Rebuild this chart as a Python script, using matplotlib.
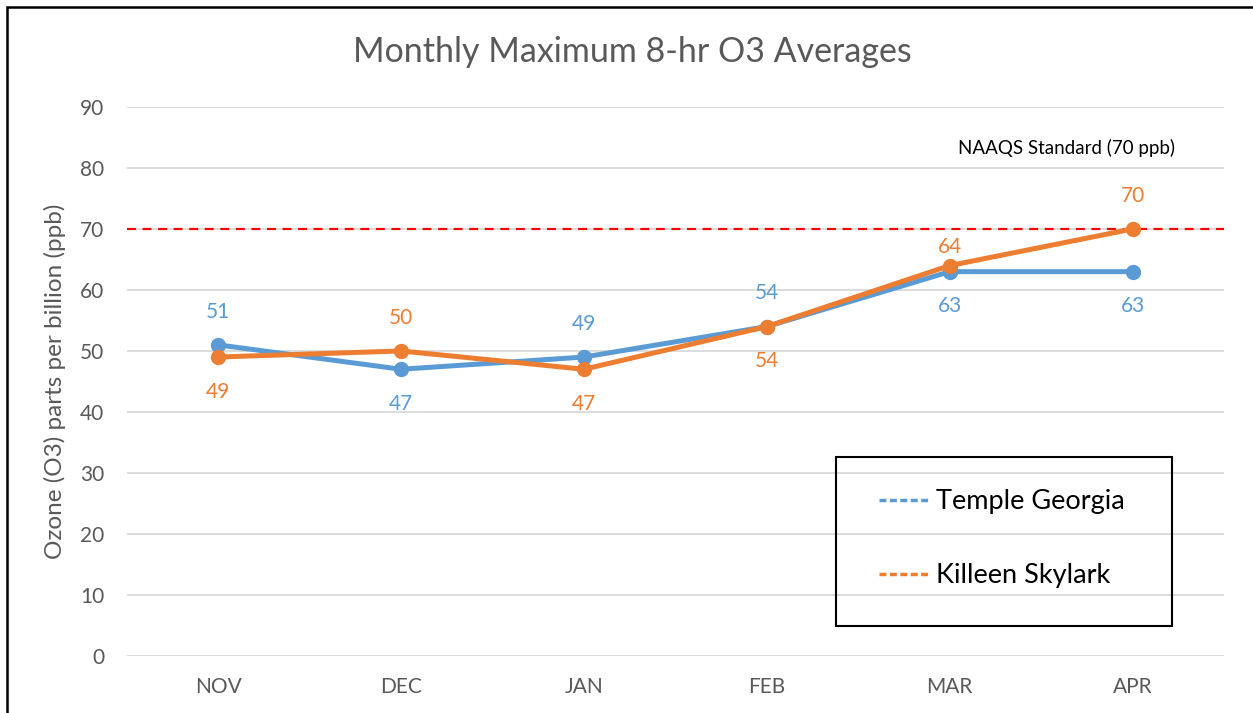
import matplotlib.pyplot as plt
from matplotlib.lines import Line2D
from matplotlib.patches import Rectangle

months = ['NOV', 'DEC', 'JAN', 'FEB', 'MAR', 'APR']
temple = [51, 47, 49, 54, 63, 63]
killeen = [49, 50, 47, 54, 64, 70]
temple_pos = ['above', 'below', 'above', 'above', 'below', 'below']
killeen_pos = ['below', 'above', 'below', 'below', 'near', 'above']
naaqs = 70

blue = '#5B9BD5'
orange = '#ED7D31'
grey = '#595959'

plt.rcParams['font.family'] = ['Lato', 'DejaVu Sans']

fig = plt.figure(figsize=(12.53, 7.13), dpi=100)
ax = fig.add_axes([0.101, 0.080, 0.876, 0.770])

x = list(range(len(months)))
ax.plot(x, temple, color=blue, lw=3.6, marker='o', ms=10, zorder=3)
ax.plot(x, killeen, color=orange, lw=3.6, marker='o', ms=10, zorder=4)
ax.axhline(naaqs, color='#FF0000', lw=1.6, ls=(0, (4, 3)), zorder=2)

# data labels
offsets = {'above': 24, 'below': -25, 'near': 13}
for vals, pos, c in [(temple, temple_pos, blue), (killeen, killeen_pos, orange)]:
    for i, v in enumerate(vals):
        ax.annotate(str(v), (i, v), xytext=(0, offsets[pos[i]]), textcoords='offset points',
                    ha='center', va='center', color=c, fontsize=15)

ax.set_xlim(-0.5, len(months) - 0.5)
ax.set_ylim(0, 90)
ax.set_yticks(range(0, 91, 10))
ax.set_xticks(x)
ax.set_xticklabels(months)
ax.tick_params(length=0, labelsize=15, labelcolor=grey)
ax.tick_params(axis='x', pad=15)
ax.tick_params(axis='y', pad=16)
ax.grid(axis='y', color='#D9D9D9', lw=1.3)
ax.set_axisbelow(True)
for s in ax.spines.values():
    s.set_visible(False)
ax.set_ylabel('Ozone (O3) parts per billion (ppb)', fontsize=17.5, color=grey, labelpad=10)

fig.text(0.505, 0.927, 'Monthly Maximum 8-hr O3 Averages', ha='center', va='center',
         fontsize=24.5, color=grey)
ax.text(4.64, 83.3, 'NAAQS Standard (70 ppb)', ha='center', va='center', fontsize=13.5, color='black')

# legend box
fig.patches.append(Rectangle((836 / 1253, 1 - 626 / 713), 336 / 1253, 169 / 713,
                             transform=fig.transFigure, fill=False, ec='black', lw=1.5, zorder=5))
handles = [Line2D([], [], color=blue, lw=2.5, ls=(0, (2, 1))),
           Line2D([], [], color=orange, lw=2.5, ls=(0, (2, 1)))]
fig.legend(handles, ['Temple Georgia', 'Killeen Skylark'], loc='upper left',
           bbox_to_anchor=(855 / 1253, 1 - 465 / 713), frameon=False, fontsize=19.5,
           handlelength=1.8, handletextpad=0.3, labelspacing=1.8)

# outer frame
fig.patches.append(Rectangle((7 / 1253, -0.2), 1.5, 1.2 - 8 / 713 + 0.001,
                             transform=fig.transFigure, fill=False, ec='black', lw=1.8))

fig.savefig('out.png', dpi=100)
